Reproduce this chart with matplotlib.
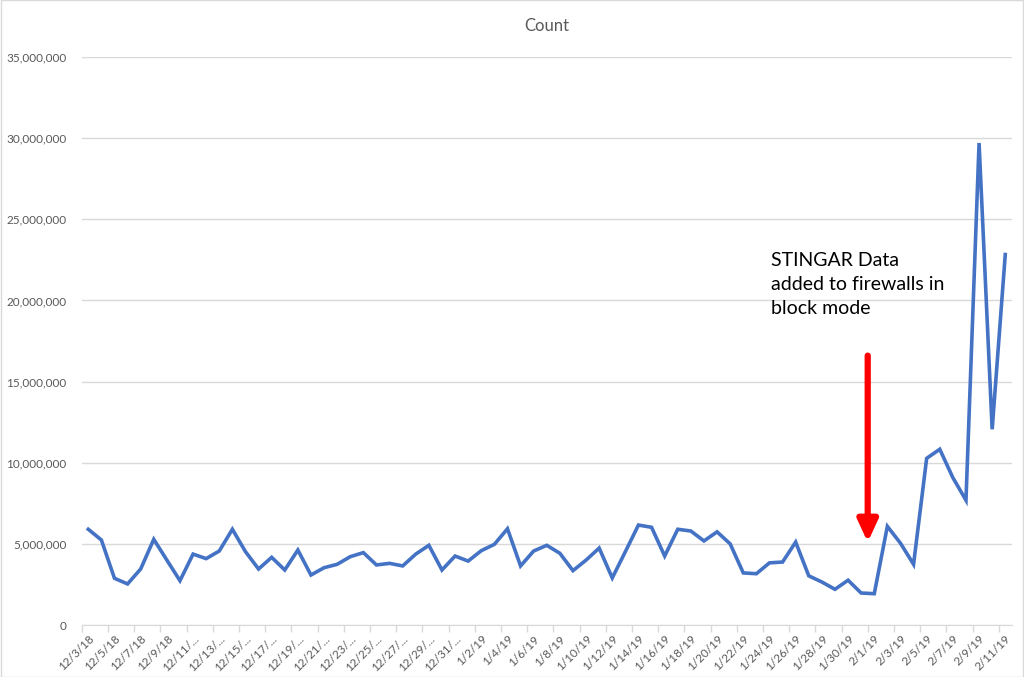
import matplotlib.pyplot as plt
from matplotlib.patches import Rectangle
from matplotlib.ticker import FuncFormatter

plt.rcParams['font.family'] = ['Lato', 'DejaVu Sans']

# daily counts, 12/3/18 .. 2/11/19
dec = [5.90, 5.24, 2.88, 2.53, 3.45, 5.28, 4.00, 2.73, 4.37, 4.09,
       4.56, 5.90, 4.52, 3.45, 4.17, 3.39, 4.62, 3.08, 3.53, 3.74,
       4.21, 4.46, 3.70, 3.80, 3.64, 4.37, 4.91, 3.39, 4.25]
jan = [3.94, 4.58, 4.97, 5.93, 3.64, 4.56, 4.91, 4.42, 3.35, 4.00,
       4.74, 2.90, 4.52, 6.16, 6.02, 4.25, 5.90, 5.79, 5.18, 5.74,
       5.00, 3.21, 3.16, 3.83, 3.88, 5.11, 3.03, 2.65, 2.20, 2.76,
       1.97]
feb = [1.93, 6.08, 5.04, 3.74, 10.27, 10.83, 9.08, 7.69, 29.70, 12.06,
       22.83]
counts = [v * 1e6 for v in dec + jan + feb]

dates = ([f'12/{d}/18' for d in range(3, 32)] +
         [f'1/{d}/19' for d in range(1, 32)] +
         [f'2/{d}/19' for d in range(1, 12)])
# Excel truncates the long labels
labels = [d if len(d) <= 7 else d[:6] + '...' for d in dates]

note = 'STINGAR Data\nadded to firewalls in\nblock mode'
arrow_x, arrow_top, arrow_tip = 59.5, 16.6e6, 5.1e6

fig = plt.figure(figsize=(10.24, 6.77), dpi=100)
ax = fig.add_axes([0.0798, 0.0768, 0.9083, 0.839])

x = list(range(len(counts)))
ax.plot(x, counts, color='#4472C4', lw=2.6, solid_joinstyle='miter')

ax.set_xlim(-0.5, len(counts) - 0.5)
ax.set_ylim(0, 35e6)
ax.set_yticks(range(0, 35000001, 5000000))
ax.yaxis.set_major_formatter(FuncFormatter(lambda v, p: f'{int(v):,}'))
ax.grid(axis='y', color='#d9d9d9', lw=1)
ax.set_axisbelow(True)

ax.set_xticks(x[::2])
ax.set_xticklabels(labels[::2], rotation=45, ha='right', rotation_mode='anchor')
ax.set_xticks([i - 0.5 for i in range(0, len(counts) + 1, 2)], minor=True)
ax.tick_params(axis='x', which='major', length=0, pad=6, labelsize=8.5, labelcolor='#595959')
ax.tick_params(axis='x', which='minor', length=5, color='#d9d9d9', width=1)
ax.tick_params(axis='y', length=0, pad=11, labelsize=8.5, labelcolor='#595959')

for s in ['top', 'right', 'left']:
    ax.spines[s].set_visible(False)
ax.spines['bottom'].set_color('#d9d9d9')

ax.set_title('Count', fontsize=12, color='#595959', pad=19)

ax.annotate('', xy=(arrow_x, arrow_tip), xytext=(arrow_x, arrow_top),
            arrowprops=dict(arrowstyle='-|>,head_width=0.6,head_length=1.3',
                            color='#ff0000', lw=4.5, shrinkA=0, shrinkB=0))
ax.text(52.1, 23.0e6, note, fontsize=14, color='black', va='top', ha='left',
        linespacing=1.5)

fig.patches.append(Rectangle((0.0005, 0.0007), 0.999, 0.9986, transform=fig.transFigure,
                             fill=False, edgecolor='#d9d9d9', lw=1))

fig.savefig('out.png', dpi=100)
